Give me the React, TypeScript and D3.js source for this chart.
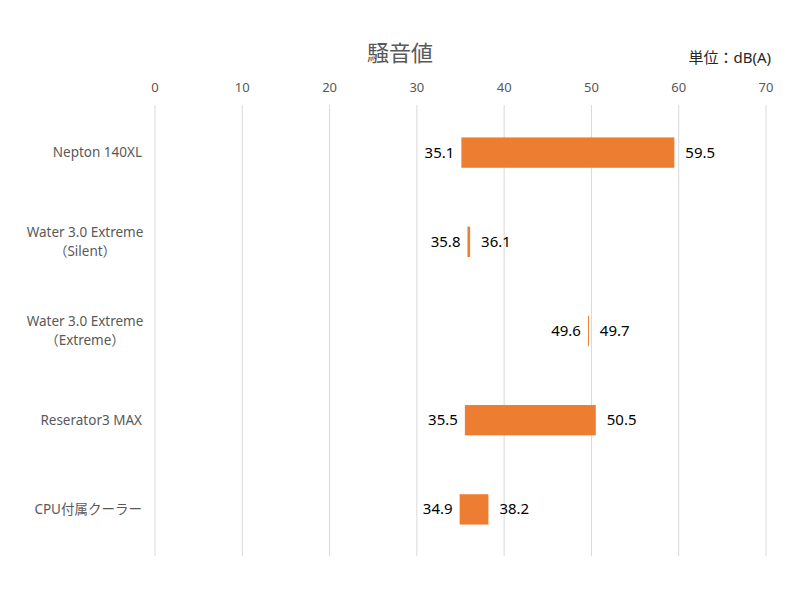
import * as d3 from "d3";

const categories = [
  "Nepton 140XL",
  "Water 3.0 Extreme\n（Silent）",
  "Water 3.0 Extreme\n（Extreme）",
  "Reserator3 MAX",
  "CPU付属クーラー",
];
const lowValues = [35.1, 35.8, 49.6, 35.5, 34.9];
const highValues = [59.5, 36.1, 49.7, 50.5, 38.2];
const ticks = [0, 10, 20, 30, 40, 50, 60, 70];

const W = 800;
const H = 600;
const FONT = "'Noto Sans', 'Noto Sans CJK JP', sans-serif";

export default function App() {
  const x = d3.scaleLinear().domain([0, 70]).range([155, 766]);
  const y = d3.scaleBand().domain(categories).range([108, 554]).paddingInner(0.66).paddingOuter(0.33);
  const bw = y.bandwidth();

  return (
    <svg
      width={W}
      height={H}
      style={{ position: "absolute", left: 0, top: 0, background: "#fff" }}
      fontFamily={FONT}
    >
      <text x={400} y={61} textAnchor="middle" fontSize={22} fill="#595959">
        騒音値
      </text>
      <text x={771} y={63} textAnchor="end" fontSize={15} fill="#262626">
        単位：dB(A)
      </text>

      {/* grid + tick labels */}
      {ticks.map((t) => (
        <g key={t}>
          <line x1={x(t)} x2={x(t)} y1={105} y2={556} stroke="#d9d9d9" strokeWidth={1} />
          <text x={x(t)} y={92} textAnchor="middle" fontSize={13} fill="#595959">
            {t}
          </text>
        </g>
      ))}

      {/* category labels */}
      {categories.map((c) => {
        const cy = (y(c) || 0) + bw / 2;
        const lines = c.split("\n");
        if (lines.length === 1) {
          return (
            <text key={c} x={142} y={cy + 4.5} textAnchor="end" fontSize={13.5} fill="#595959">
              {c}
            </text>
          );
        }
        return (
          <text key={c} x={85} textAnchor="middle" fontSize={13.5} fill="#595959">
            {lines.map((l, i) => (
              <tspan key={i} x={85} y={cy - 9.5 + i * 19 + 4.5}>
                {l}
              </tspan>
            ))}
          </text>
        );
      })}

      {/* bars */}
      {categories.map((c, i) => {
        const y0 = y(c) || 0;
        const cy = y0 + bw / 2;
        const lo = lowValues[i];
        const hi = highValues[i];
        return (
          <g key={c}>
            <rect
              x={x(lo)}
              y={y0}
              width={Math.max(x(hi) - x(lo), 1)}
              height={bw}
              fill="#ED7D31"
            />
            <text x={x(lo) - 7} y={cy + 5} textAnchor="end" fontSize={15} fill="#000">
              {lo.toFixed(1)}
            </text>
            <text x={x(hi) + 11} y={cy + 5} textAnchor="start" fontSize={15} fill="#000">
              {hi.toFixed(1)}
            </text>
          </g>
        );
      })}
    </svg>
  );
}
